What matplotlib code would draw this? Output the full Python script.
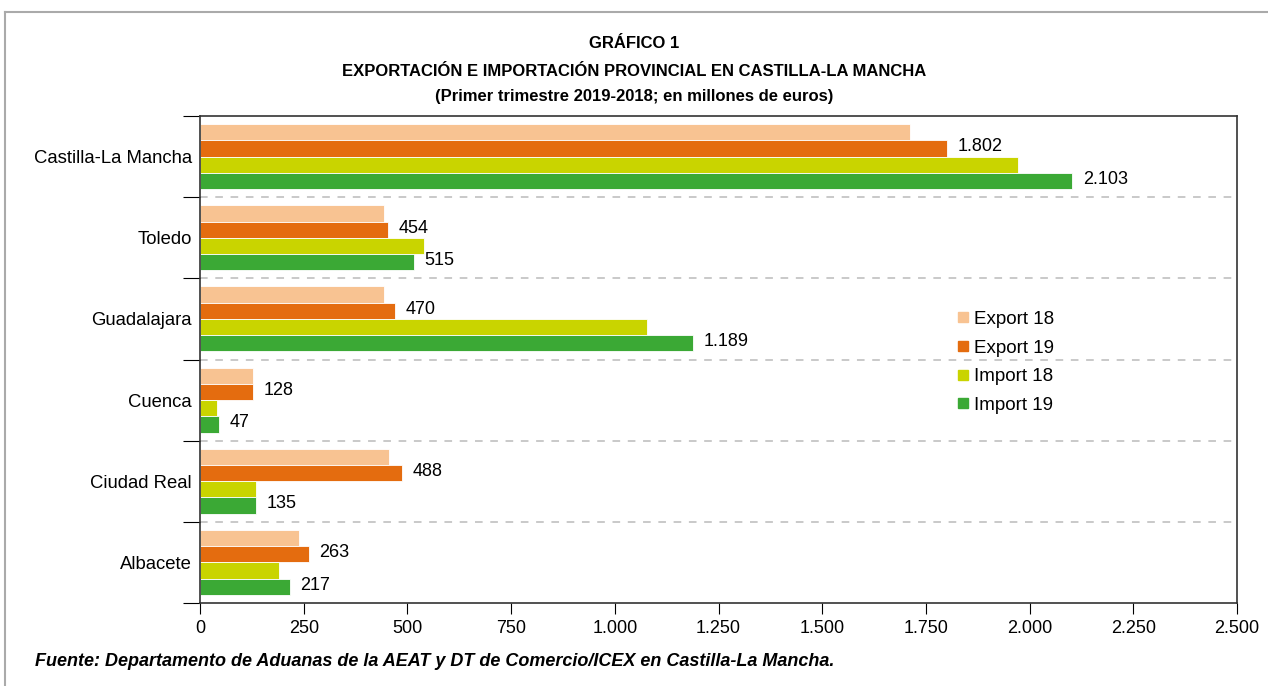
import matplotlib
matplotlib.use("Agg")
import matplotlib.pyplot as plt
from matplotlib.lines import Line2D
from matplotlib.ticker import FuncFormatter, FixedLocator
import numpy as np

# datos (millones de euros)
provincias = ["Castilla-La Mancha", "Toledo", "Guadalajara", "Cuenca", "Ciudad Real", "Albacete"]
export_18 = [1712, 443, 444, 128, 456, 239]
export_19 = [1802, 454, 470, 128, 488, 263]
import_18 = [1972, 539, 1078, 40, 136, 190]
import_19 = [2103, 515, 1189, 47, 135, 217]
series_names = ["Export 18", "Export 19", "Import 18", "Import 19"]
colores = ["#F8C392", "#E46C0F", "#C9D400", "#3BA935"]
x_ticks = [0, 250, 500, 750, 1000, 1250, 1500, 1750, 2000, 2250, 2500]

plt.rcParams['font.family'] = ['Liberation Sans', 'DejaVu Sans']


def miles(v, pos=None):
    return f"{int(v):,}".replace(",", ".")


fig = plt.figure(figsize=(12.68, 6.86), dpi=100)
ax = fig.add_axes([200/1268, 1-603/686, 1037/1268, 487/686])

n = len(provincias)
pos = np.arange(n)[::-1]  # top category first
h = 0.2
series = [export_18, export_19, import_18, import_19]
for i, (vals, nombre, c) in enumerate(zip(series, series_names, colores)):
    y = pos + 0.3 - i * h
    ax.barh(y, vals, height=h, color=c, edgecolor="white", linewidth=0.6, label=nombre)
    if i in (1, 3):
        for yy, v in zip(y, vals):
            ax.text(v + 25, yy + 0.02, miles(v), va="center", ha="left", fontsize=13)

ax.set_xlim(0, 2500)
ax.set_ylim(-0.5, n - 0.5)
ax.xaxis.set_major_locator(FixedLocator(x_ticks))
ax.xaxis.set_major_formatter(FuncFormatter(miles))
ax.tick_params(axis="x", direction="out", length=8, labelsize=13, pad=4)

# category boundaries as ticks, labels in between
bounds = np.arange(-0.5, n, 1.0)
ax.set_yticks(bounds)
ax.set_yticklabels([])
ax.set_yticks(pos, minor=True)
ax.set_yticklabels(provincias, minor=True, fontsize=13.3)
ax.tick_params(axis="y", which="major", direction="out", length=12)
ax.tick_params(axis="y", which="minor", length=0, pad=6)

for b in bounds[1:-1]:
    ax.axhline(b, color="#BBBBBB", linestyle=(0, (5, 5)), linewidth=1.1, zorder=0)

for s in ax.spines.values():
    s.set_color("#333333")
    s.set_linewidth(1.2)

handles = [Line2D([], [], marker="s", linestyle="", markersize=7, color=c) for c in colores]
ax.legend(handles, series_names, loc="upper left", bbox_to_anchor=(0.71, 0.635),
          frameon=False, fontsize=13.5, handletextpad=0.1, labelspacing=0.62,
          handlelength=1.0)

narrow = ["Liberation Sans Narrow", "Liberation Sans"]
fig.text(0.5, 1-43/686, "GRÁFICO 1", ha="center", va="center", fontsize=12, fontweight="bold",
         family=narrow)
fig.text(0.5, 1-71/686, "EXPORTACIÓN E IMPORTACIÓN PROVINCIAL EN CASTILLA-LA MANCHA", ha="center",
         va="center", fontsize=12, fontweight="bold", family=narrow)
fig.text(0.5, 1-97/686, "(Primer trimestre 2019-2018; en millones de euros)", ha="center", va="center",
         fontsize=12, fontweight="bold", family=narrow)
fig.text(35/1268, 1-661/686, "Fuente: Departamento de Aduanas de la AEAT y DT de Comercio/ICEX en Castilla-La Mancha.",
         ha="left", va="center", fontsize=13, fontweight="bold", fontstyle="italic", family=narrow)

# marco exterior gris (arriba e izquierda)
fig.add_artist(Line2D([5/1268, 1], [1-12/686, 1-12/686], transform=fig.transFigure, color="#AAAAAA", linewidth=1.5))
fig.add_artist(Line2D([5/1268, 5/1268], [0, 1-12/686], transform=fig.transFigure, color="#AAAAAA", linewidth=1.5))

fig.savefig("out.png", dpi=100)
